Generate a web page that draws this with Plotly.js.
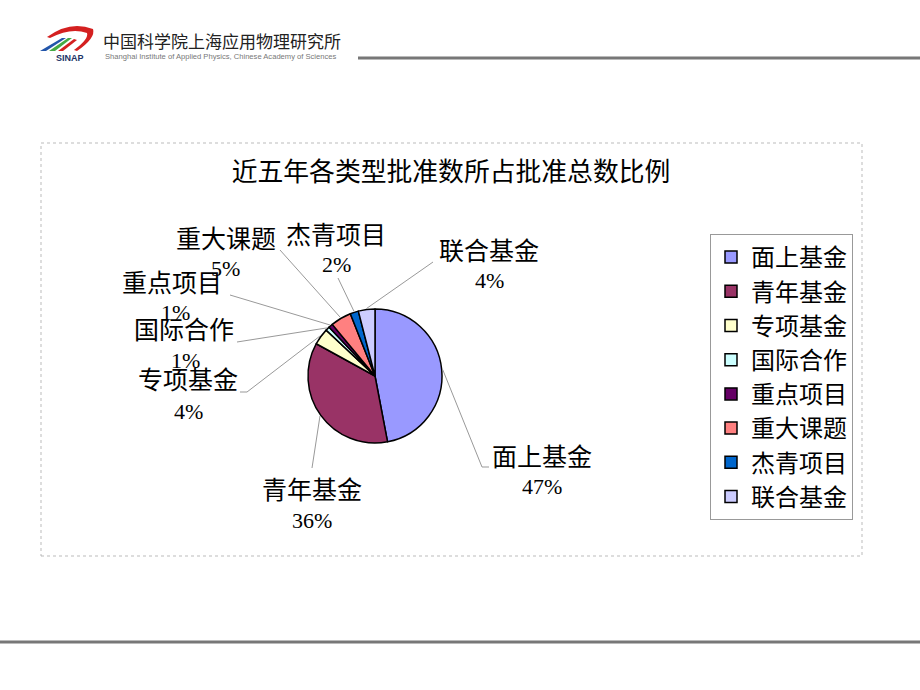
<!DOCTYPE html>
<html>
<head>
<meta charset="utf-8">
<script src="https://cdn.plot.ly/plotly-3.0.1.min.js"></script>
<style>
html,body{margin:0;padding:0;background:#fff;}
#chart{width:920px;height:690px;}
</style>
</head>
<body>
<div id="chart"></div>
<script>
// ---- data ----
const categories = ['面上基金','青年基金','专项基金','国际合作','重点项目','重大课题','杰青项目','联合基金'];
const values = [47, 36, 4, 1, 1, 5, 2, 4];
const colors = ['#9999FF','#993366','#FFFFCC','#CCFFFF','#660066','#FF8080','#0066CC','#CCCCFF'];
const chartTitle = '近五年各类型批准数所占批准总数比例';

// ---- layout geometry (pixels) ----
const W = 920, H = 690;
const pieCx = 375, pieCy = 376, pieR = 67;
// label centre (name), percent centre, and leader end points, per category
const labelPos = [
  {nx:542, ny:455, px:542, py:486, end:[[482,467],[489,467]]},
  {nx:312, ny:488, px:312, py:520, end:[[312,468]]},
  {nx:188, ny:378, px:188, py:411, end:[[247,392],[240,392]]},
  {nx:184, ny:328, px:185, py:360, end:[[237,342]]},
  {nx:172, ny:281, px:175, py:312, end:[[230,295]]},
  {nx:226, ny:237, px:225, py:268, end:[[280,250]]},
  {nx:336, ny:233, px:336, py:264, end:[[338,278]]},
  {nx:489, ny:249, px:489, py:280, end:[[433,262]]}
];

const fx = x => x / W;
const fy = y => 1 - y / H;
const CJK = '"Noto Sans CJK SC", "Noto Sans", sans-serif';
const SERIF = '"Liberation Serif", "DejaVu Serif", serif';

const total = values.reduce((a, b) => a + b, 0);

const trace = {
  type: 'pie',
  labels: categories,
  values: values,
  sort: false,
  direction: 'clockwise',
  rotation: 0,
  textinfo: 'none',
  hoverinfo: 'label+percent',
  marker: {colors: colors, line: {color: '#000', width: 1.5}},
  domain: {x: [fx(pieCx - pieR), fx(pieCx + pieR)], y: [fy(pieCy + pieR), fy(pieCy - pieR)]},
  showlegend: true
};

const shapes = [];
const annotations = [];

// chart frame
shapes.push({type:'rect', xref:'paper', yref:'paper', x0:fx(41), x1:fx(862), y0:fy(556), y1:fy(143),
  line:{color:'#BBBBBB', width:1, dash:'dot'}, layer:'below'});
// header and footer rules
shapes.push({type:'line', xref:'paper', yref:'paper', x0:fx(358), x1:fx(920), y0:fy(58), y1:fy(58),
  line:{color:'#777777', width:3}});
shapes.push({type:'line', xref:'paper', yref:'paper', x0:fx(0), x1:fx(920), y0:fy(642), y1:fy(642),
  line:{color:'#777777', width:3}});

// logo swooshes (pixel path -> paper path)
function pathPx(cmds) {
  return cmds.map(c => {
    if (typeof c === 'string') return c;
    return fx(c[0]).toFixed(5) + ',' + fy(c[1]).toFixed(5);
  }).join(' ');
}
const logoShapes = [
  {fill:'#D42020', p:['M',[47,37],'Q',[70,20],[93,29],'Q',[96,38],[77,51],'L',[74,50],'Q',[89,39],[87,33],'Q',[71,27],[50,38],'Z']},
  {fill:'#2255AA', p:['M',[40,51],'L',[62,38],'L',[66,38],'L',[46,51],'Z']},
  {fill:'#44AA44', p:['M',[49,51],'L',[68,38],'L',[72,38],'L',[55,51],'Z']},
  {fill:'#D42020', p:['M',[58,51],'L',[74,39],'L',[77,40],'L',[63,51],'Z']}
];
logoShapes.forEach(s => shapes.push({type:'path', xref:'paper', yref:'paper', path:pathPx(s.p),
  fillcolor:s.fill, line:{width:0}}));
annotations.push({xref:'paper', yref:'paper', x:fx(70), y:fy(58), text:'<b>SINAP</b>', showarrow:false,
  xanchor:'center', yanchor:'middle', font:{family:'"Liberation Sans", Arial, sans-serif', size:9, color:'#223366'}});
annotations.push({xref:'paper', yref:'paper', x:fx(101), y:fy(41), text:'中国科学院上海应用物理研究所', showarrow:false,
  xanchor:'left', yanchor:'middle', font:{family:CJK, size:17, color:'#222222'}});
annotations.push({xref:'paper', yref:'paper', x:fx(103), y:fy(57), text:'Shanghai Institute of Applied Physics, Chinese Academy of Sciences', showarrow:false,
  xanchor:'left', yanchor:'middle', font:{family:'"Liberation Sans", Arial, sans-serif', size:7.6, color:'#777777'}});

// data labels and leader lines (start point from slice mid-angle)
let cum = 0;
values.forEach((v, i) => {
  const mid = (cum + v / 2) / total * 2 * Math.PI;
  cum += v;
  const sx = pieCx + (pieR + 1) * Math.sin(mid);
  const sy = pieCy - (pieR + 1) * Math.cos(mid);
  const L = labelPos[i];
  let pts = [[sx, sy]].concat(L.end);
  for (let k = 0; k < pts.length - 1; k++) {
    shapes.push({type:'line', xref:'paper', yref:'paper',
      x0:fx(pts[k][0]), y0:fy(pts[k][1]), x1:fx(pts[k+1][0]), y1:fy(pts[k+1][1]),
      line:{color:'#999999', width:1}});
  }
  annotations.push({xref:'paper', yref:'paper', x:fx(L.nx), y:fy(L.ny), text:categories[i], showarrow:false,
    xanchor:'center', yanchor:'middle', font:{family:CJK, size:25, color:'#000'}});
  annotations.push({xref:'paper', yref:'paper', x:fx(L.px), y:fy(L.py), text:Math.round(v / total * 100) + '%', showarrow:false,
    xanchor:'center', yanchor:'middle', font:{family:SERIF, size:22, color:'#000'}});
});

const layout = {
  width: W, height: H,
  margin: {l:0, r:0, t:0, b:0},
  paper_bgcolor: '#FFFFFF',
  title: {text: chartTitle, x: fx(451), y: fy(172), xanchor:'center', yanchor:'middle',
    font: {family: CJK, size: 25.8, color: '#000'}},
  legend: {x: fx(710), y: fy(234), xanchor:'left', yanchor:'top',
    bordercolor:'#999999', borderwidth:1, bgcolor:'#FFFFFF',
    font:{family:CJK, size:24, color:'#000'}, traceorder:'normal', itemwidth:30},
  shapes: shapes,
  annotations: annotations
};

Plotly.newPlot('chart', [trace], layout, {displayModeBar:false, staticPlot:true});
</script>
</body>
</html>
